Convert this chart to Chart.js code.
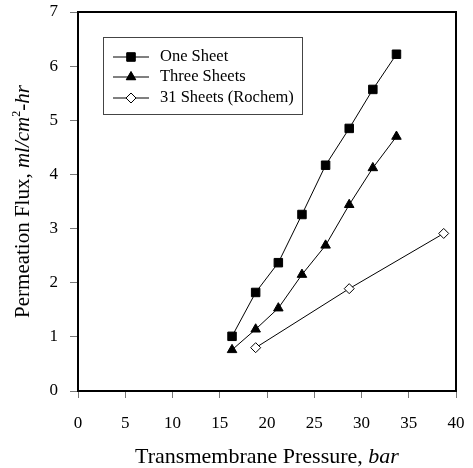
<!DOCTYPE html>
<html>
<head>
<meta charset="utf-8">
<script src="https://cdn.jsdelivr.net/npm/chart.js@4.4.1/dist/chart.umd.min.js"></script>
<style>
  html, body { margin: 0; padding: 0; background: #fff; }
  #wrap { width: 473px; height: 468px; }
</style>
</head>
<body>
<div id="wrap"><canvas id="fluxChart" width="473" height="468"></canvas></div>
<script>
// Data
const oneSheetX = [16.3, 18.8, 21.2, 23.7, 26.2, 28.7, 31.2, 33.7];
const oneSheetY = [1.01, 1.82, 2.37, 3.26, 4.17, 4.85, 5.57, 6.22];
const threeSheetsX = [16.3, 18.8, 21.2, 23.7, 26.2, 28.7, 31.2, 33.7];
const threeSheetsY = [0.76, 1.14, 1.53, 2.15, 2.69, 3.44, 4.12, 4.70];
const rochemX = [18.8, 28.7, 38.7];
const rochemY = [0.80, 1.89, 2.91];
const seriesLabels = ['One Sheet', 'Three Sheets', '31 Sheets (Rochem)'];

const FONT = '"Liberation Serif", "Times New Roman", serif';

function toPoints(xs, ys) {
    return xs.map((x, i) => ({ x: x, y: ys[i] }));
}

// Frame, inline legend and styled axis titles
const decorations = {
    id: 'decorations',
    afterDraw(chart) {
        const c = chart.ctx;
        const a = chart.chartArea;
        c.save();

        // top + right frame
        c.strokeStyle = '#000';
        c.lineWidth = 2;
        c.beginPath();
        c.moveTo(a.left, a.top);
        c.lineTo(a.right, a.top);
        c.lineTo(a.right, a.bottom);
        c.stroke();

        // legend box
        const lx = 103, ly = 37, lw = 199, lh = 77;
        c.lineWidth = 1;
        c.strokeStyle = '#444';
        c.strokeRect(lx + 0.5, ly + 0.5, lw, lh);
        const rows = [57, 77, 98];
        chart.data.datasets.forEach((ds, i) => {
            const y = rows[i];
            c.strokeStyle = '#000';
            c.lineWidth = 1;
            c.beginPath();
            c.moveTo(113, y);
            c.lineTo(149, y);
            c.stroke();
            Chart.helpers.drawPoint(c, {
                pointStyle: ds.pointStyle,
                radius: ds.pointRadius,
                rotation: 0
            }, 131, y);
            c.fillStyle = ds.pointBackgroundColor;
            c.strokeStyle = '#000';
            c.fill();
            c.stroke();
            c.fillStyle = '#000';
            c.font = '16.5px ' + FONT;
            c.textBaseline = 'middle';
            c.textAlign = 'left';
            c.fillText(ds.label, 160, y);
        });

        // x title
        c.textBaseline = 'alphabetic';
        const xs = [['Transmembrane Pressure, ', ''], ['bar', 'italic ']];
        let total = 0;
        xs.forEach(s => { c.font = s[1] + '22px ' + FONT; total += c.measureText(s[0]).width; });
        let px = (a.left + a.right) / 2 - total / 2;
        xs.forEach(s => {
            c.font = s[1] + '22px ' + FONT;
            c.fillText(s[0], px, 463);
            px += c.measureText(s[0]).width;
        });

        // y title
        c.translate(29, (a.top + a.bottom) / 2);
        c.rotate(-Math.PI / 2);
        const ysegs = [
            ['Permeation Flux, ', '', 21, 0],
            ['ml/cm', 'italic ', 21, 0],
            ['2', '', 12, -9],
            ['-hr', 'italic ', 21, 0]
        ];
        total = 0;
        ysegs.forEach(s => { c.font = s[1] + s[2] + 'px ' + FONT; total += c.measureText(s[0]).width; });
        px = -total / 2;
        ysegs.forEach(s => {
            c.font = s[1] + s[2] + 'px ' + FONT;
            c.fillText(s[0], px, s[3]);
            px += c.measureText(s[0]).width;
        });
        c.restore();
    }
};

const ctx = document.getElementById('fluxChart').getContext('2d');

const fluxChart = new Chart(ctx, {
    type: 'line',
    data: {
        datasets: [{
            label: seriesLabels[0],
            data: toPoints(oneSheetX, oneSheetY),
            borderColor: '#000',
            borderWidth: 1,
            pointStyle: 'rect',
            pointRadius: 6,
            pointBackgroundColor: '#000',
            pointBorderColor: '#000',
            pointBorderWidth: 1
        }, {
            label: seriesLabels[1],
            data: toPoints(threeSheetsX, threeSheetsY),
            borderColor: '#000',
            borderWidth: 1,
            pointStyle: 'triangle',
            pointRadius: 5.5,
            pointBackgroundColor: '#000',
            pointBorderColor: '#000',
            pointBorderWidth: 1
        }, {
            label: seriesLabels[2],
            data: toPoints(rochemX, rochemY),
            borderColor: '#000',
            borderWidth: 1,
            pointStyle: 'rectRot',
            pointRadius: 5,
            pointBackgroundColor: '#fff',
            pointBorderColor: '#000',
            pointBorderWidth: 1
        }]
    },
    options: {
        responsive: false,
        animation: false,
        layout: {
            padding: { left: 0, top: 12, right: 17, bottom: 0 }
        },
        plugins: {
            legend: { display: false },
            tooltip: { enabled: false }
        },
        scales: {
            x: {
                type: 'linear',
                min: 0,
                max: 40,
                afterFit: function(scale) {
                    scale.height = 77;
                    scale.paddingLeft = 0;
                    scale.paddingRight = 0;
                },
                ticks: {
                    stepSize: 5,
                    color: '#000',
                    padding: 15,
                    font: { family: FONT, size: 17 }
                },
                grid: {
                    drawOnChartArea: false,
                    drawTicks: true,
                    tickLength: 7,
                    color: '#777'
                },
                border: { display: true, color: '#000', width: 2 }
            },
            y: {
                type: 'linear',
                min: 0,
                max: 7,
                afterFit: function(scale) {
                    scale.width = 78;
                    scale.paddingTop = 0;
                    scale.paddingBottom = 0;
                },
                ticks: {
                    stepSize: 1,
                    color: '#000',
                    padding: 12,
                    font: { family: FONT, size: 17 }
                },
                grid: {
                    drawOnChartArea: false,
                    drawTicks: true,
                    tickLength: 8,
                    color: '#777'
                },
                border: { display: true, color: '#000', width: 2 }
            }
        }
    },
    plugins: [decorations]
});
</script>
</body>
</html>
